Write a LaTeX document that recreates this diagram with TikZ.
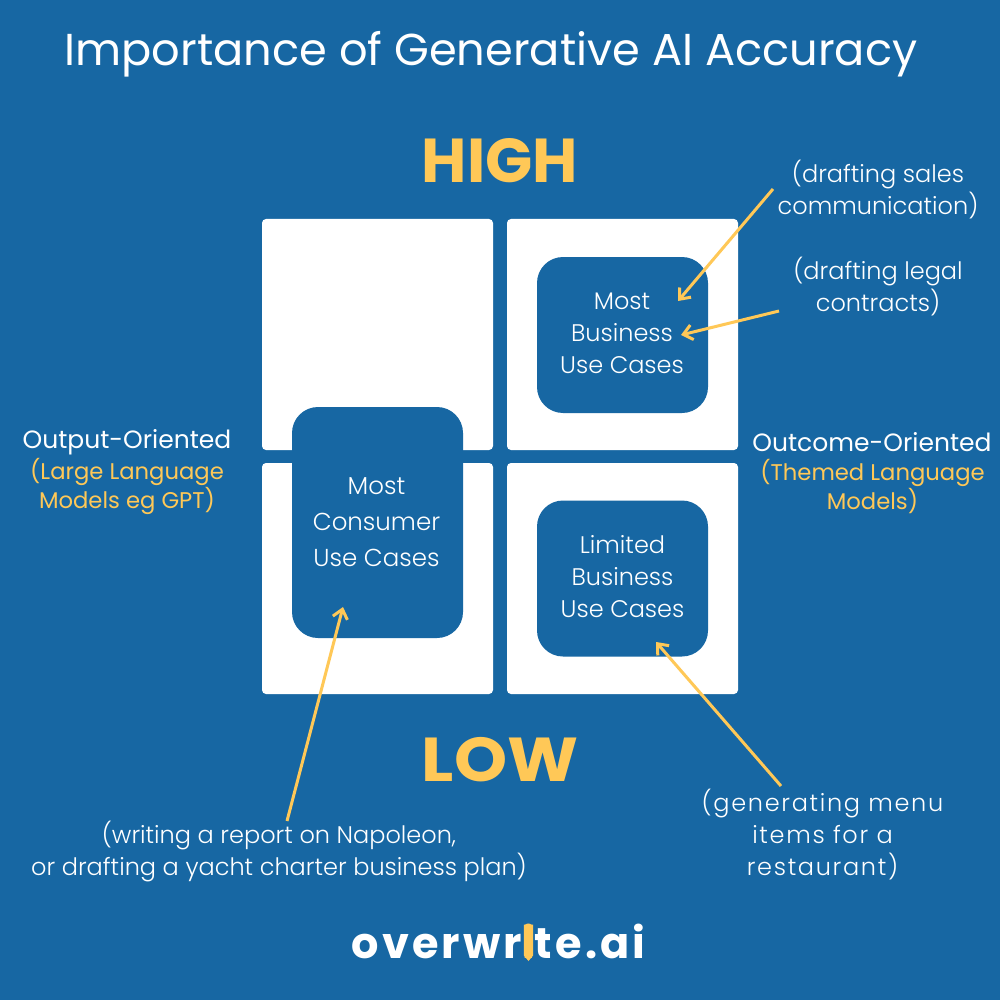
\documentclass[tikz,border=0pt]{standalone}
\usepackage{fontspec}
\setmainfont{Poppins}
\newfontfamily\plight{Poppins Light}
\newfontfamily\logofont[LetterSpace=7.3]{Poppins Bold}
\newfontfamily\widelight[LetterSpace=7]{Poppins Light}
\usetikzlibrary{arrows.meta}
\definecolor{bg}{HTML}{1767A3}
\definecolor{gold}{HTML}{FFC857}
\tikzset{
 lab/.style={text=white,align=center,font=\plight\fontsize{24}{32}\selectfont,inner sep=0pt},
 sidew/.style={text=white,align=center,font=\fontsize{25}{29}\selectfont,inner sep=0pt},
 sideg/.style={text=gold,align=center,font=\fontsize{22.7}{29}\selectfont,inner sep=0pt},
 big/.style={text=gold,font=\fontsize{62}{62}\selectfont\bfseries,inner sep=0pt},
 quad/.style={fill=white,rounded corners=4pt,minimum width=231pt,minimum height=231pt,inner sep=0pt},
 inbox/.style={fill=bg,rounded corners=26pt,minimum width=171pt,inner sep=0pt},
 arr/.style={draw=gold,line width=3pt,-{Straight Barb[length=9pt,width=15pt,line width=3pt]}},
 logotext/.style={text=white,font=\logofont\fontsize{43}{43}\selectfont,inner sep=0pt},
}
\begin{document}
\begin{tikzpicture}[x=1pt,y=-1pt]
\useasboundingbox (0,0) rectangle (1000,1000);
\fill[bg] (0,0) rectangle (1000,1000);
\node[text=white,font=\fontsize{44.7}{46}\selectfont,inner sep=0pt] (title) at (491,54) {Importance of Generative AI Accuracy};
\node[big] (high) at (500,161) {HIGH};
\node[big] (low) at (500,760) {\scalebox{1.09}[1]{LOW}};
\node[quad] (q1) at (377.5,334.5) {};
\node[quad] (q2) at (622.5,334.5) {};
\node[quad] (q3) at (377.5,578.5) {};
\node[quad] (q4) at (622.5,578.5) {};
\node[inbox,minimum height=156pt] (b2) at (622.5,335) {};
\node[inbox,minimum height=231pt] (b3) at (377.5,522.5) {};
\node[inbox,minimum height=156pt] (b4) at (622.5,578.5) {};
\node[lab] (t2) at (622,333) {Most\\Business\\Use Cases};
\node[lab,font=\plight\fontsize{24.5}{36}\selectfont] (t3) at (376.5,522) {Most\\Consumer\\Use Cases};
\node[lab] (t4) at (622.5,577) {Limited\\Business\\Use Cases};
\node[lab] (c1) at (878,189.5) {(drafting sales\\communication)};
\node[lab] (c2) at (878,286.5) {(drafting legal\\contracts)};
\node[lab] (c3) at (279,851) {(writing a report on Napoleon,\\or drafting a yacht charter business plan)};
\node[lab,font=\widelight\fontsize{24}{32}\selectfont] (c4) at (822.5,835) {(generating menu\\items for a\\restaurant)};
\node[sidew] (l1) at (127,442) {Output-Oriented};
\node[sideg] (l2) at (127,486.5) {(Large Language\\Models eg GPT)};
\node[sidew] (r1) at (872,442) {Outcome-Oriented};
\node[sideg] (r2) at (872.5,486.5) {(Themed Language\\Models)};
\coordinate (a1s) at (773,189); \coordinate (a1e) at (678,301);
\coordinate (a2s) at (779,311); \coordinate (a2e) at (681,335);
\coordinate (a3s) at (287,821); \coordinate (a3e) at (343,607);
\coordinate (a4s) at (781,786); \coordinate (a4e) at (656,642);
\draw[arr] (a1s) -- (a1e);
\draw[arr] (a2s) -- (a2e);
\draw[arr] (a3s) -- (a3e);
\draw[arr] (a4s) -- (a4e);
\node[logotext,anchor=base] (logo) at (498.5,958.5) {overwr\textcolor{gold}{i}te.ai};
\coordinate (pen) at (528.5,958.5);
\fill[gold] ([xshift=-4.6pt,yshift=34pt]pen) -- ([xshift=4.6pt,yshift=34pt]pen) -- ([xshift=4.6pt,yshift=3pt]pen) -- ([yshift=-2.5pt]pen) -- ([xshift=-4.6pt,yshift=3pt]pen) -- cycle;
\end{tikzpicture}
\end{document}
